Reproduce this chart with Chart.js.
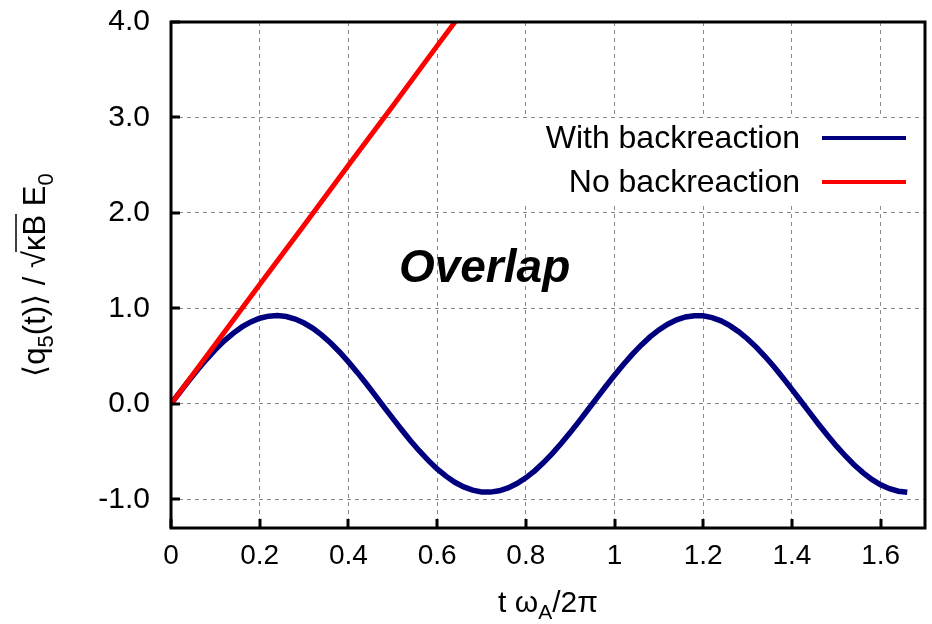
<!DOCTYPE html>
<html><head><meta charset="utf-8">
<script src="https://cdn.jsdelivr.net/npm/chart.js@4.4.0/dist/chart.umd.min.js"></script>
<style>html,body{margin:0;padding:0;background:#fff;}#c{display:block;}</style>
</head><body>
<canvas id="c" width="932" height="624"></canvas>
<script>
const seriesNames = ['With backreaction', 'No backreaction'];
const xWith = [0,0.02,0.04,0.06,0.08,0.10,0.12,0.14,0.16,0.18,0.20,0.22,0.24,0.26,0.28,0.30,0.32,0.34,0.36,0.38,0.40,0.42,0.44,0.46,0.48,0.50,0.52,0.54,0.56,0.58,0.60,0.62,0.64,0.66,0.68,0.70,0.72,0.74,0.76,0.78,0.80,0.82,0.84,0.86,0.88,0.90,0.92,0.94,0.96,0.98,1.00,1.02,1.04,1.06,1.08,1.10,1.12,1.14,1.16,1.18,1.20,1.22,1.24,1.26,1.28,1.30,1.32,1.34,1.36,1.38,1.40,1.42,1.44,1.46,1.48,1.50,1.52,1.54,1.56,1.58,1.60,1.62,1.64,1.66];
const yWith = [0,0.122,0.242,0.358,0.467,0.568,0.660,0.739,0.806,0.859,
  0.897,0.919,0.925,0.915,0.888,0.847,0.791,0.720,0.637,0.544,
  0.440,0.330,0.213,0.092,-0.031,-0.152,-0.271,-0.386,-0.493,-0.592,
  -0.681,-0.757,-0.821,-0.870,-0.904,-0.922,-0.924,-0.910,-0.880,-0.834,
  -0.775,-0.701,-0.615,-0.519,-0.413,-0.301,-0.183,-0.061,0.061,0.182,
  0.300,0.413,0.519,0.615,0.701,0.775,0.835,0.880,0.910,0.924,
  0.922,0.904,0.870,0.820,0.757,0.680,0.592,0.493,0.386,0.271,
  0.152,0.030,-0.092,-0.213,-0.329,-0.440,-0.543,-0.637,-0.720,-0.791,
  -0.847,-0.888,-0.915,-0.925];
const xNo = [0,0.1,0.2,0.3,0.4,0.5,0.6,0.645];
const yNo = [0,0.625,1.25,1.87,2.50,3.12,3.75,4.03];
const xTicks = [0,0.2,0.4,0.6,0.8,1.0,1.2,1.4,1.6];
const xTickLabels = ['0','0.2','0.4','0.6','0.8','1','1.2','1.4','1.6'];
const yTicks = [-1,0,1,2,3,4];
const yTickLabels = ['-1.0','0.0','1.0','2.0','3.0','4.0'];
const annotationText = 'Overlap';
const annotationAt = [0.707, 1.28];

const FONT = '"Liberation Sans", Arial, Helvetica, sans-serif';
const BLUE = '#00007f', RED = '#ff0000';

function drawPieces(ctx, pieces, startX, baseY) {
  let x = startX;
  const pos = [];
  for (const p of pieces) {
    ctx.font = p.f;
    ctx.fillText(p.t, x, baseY + (p.dy || 0));
    const w = ctx.measureText(p.t).width;
    pos.push([x, x + w]);
    x += w;
  }
  return pos;
}
function widthOf(ctx, pieces) {
  let w = 0;
  for (const p of pieces) { ctx.font = p.f; w += ctx.measureText(p.t).width; }
  return w;
}

const deco = {
  id: 'deco',
  afterDatasetsDraw(chart) {
    const {ctx, chartArea: a, scales: {x, y}} = chart;
    ctx.save();
    ctx.fillStyle = '#000';
    ctx.font = 'italic bold 46px ' + FONT;
    ctx.textAlign = 'center';
    ctx.textBaseline = 'alphabetic';
    ctx.fillText(annotationText, x.getPixelForValue(annotationAt[0]), y.getPixelForValue(annotationAt[1]));
    ctx.fillStyle = '#fff';
    ctx.fillRect(515, 118, a.right - 515 - 2, 86);
    ctx.font = '32px ' + FONT;
    ctx.textAlign = 'right';
    ctx.textBaseline = 'middle';
    const rows = [[seriesNames[0], BLUE, 138], [seriesNames[1], RED, 182]];
    for (const [t, c, yy] of rows) {
      ctx.fillStyle = '#000';
      ctx.fillText(t, 800, yy + 1);
      ctx.strokeStyle = c; ctx.lineWidth = 4;
      ctx.beginPath(); ctx.moveTo(822, yy); ctx.lineTo(906, yy); ctx.stroke();
    }
    ctx.strokeStyle = '#000'; ctx.lineWidth = 3;
    ctx.strokeRect(a.left, a.top, a.right - a.left, a.bottom - a.top);
    ctx.beginPath();
    for (const v of yTicks) {
      const py = Math.round(y.getPixelForValue(v));
      ctx.moveTo(a.left, py); ctx.lineTo(a.left + 9, py);
    }
    for (const v of xTicks) {
      const px = Math.round(x.getPixelForValue(v));
      ctx.moveTo(px, a.bottom); ctx.lineTo(px, a.bottom - 9);
    }
    ctx.stroke();
    ctx.restore();
  },
  afterDraw(chart) {
    const {ctx, chartArea: a} = chart;
    ctx.save();
    ctx.fillStyle = '#000';
    ctx.textAlign = 'left';
    ctx.textBaseline = 'alphabetic';
    const M = '30px ' + FONT, S = '21px ' + FONT;
    const xp = [{t: 't \u03c9', f: M}, {t: 'A', f: S, dy: 7}, {t: '/2\u03c0', f: M}];
    const xw = widthOf(ctx, xp);
    drawPieces(ctx, xp, (a.left + a.right) / 2 - xw / 2, 612);
    ctx.translate(45, (a.top + a.bottom) / 2);
    ctx.rotate(-Math.PI / 2);
    const MY = '31px ' + FONT, SY = '22px ' + FONT;
    const yp = [{t: '\u27e8q', f: MY}, {t: '5', f: SY, dy: 8}, {t: '(t)\u27e9 / ', f: MY}, {t: '\u221a', f: MY}, {t: '\u03baB', f: MY}, {t: ' E', f: MY}, {t: '0', f: SY, dy: 8}];
    const yw = widthOf(ctx, yp);
    const pos = drawPieces(ctx, yp, -yw / 2, 0);
    ctx.strokeStyle = '#000'; ctx.lineWidth = 1.5;
    ctx.beginPath();
    ctx.moveTo(pos[3][1] - 1, -29); ctx.lineTo(pos[4][1] + 1, -29);
    ctx.stroke();
    ctx.restore();
  }
};

new Chart(document.getElementById('c'), {
  type: 'line',
  data: {
    datasets: [
      {label: seriesNames[0], data: xWith.map((v, i) => ({x: v, y: yWith[i]})), borderColor: BLUE, borderWidth: 5.5, pointRadius: 0, tension: 0, order: 2},
      {label: seriesNames[1], data: xNo.map((v, i) => ({x: v, y: yNo[i]})), borderColor: RED, borderWidth: 5, pointRadius: 0, tension: 0, order: 1}
    ]
  },
  options: {
    responsive: false,
    animation: false,
    devicePixelRatio: 1,
    layout: {padding: {top: 22, right: 7, left: 0, bottom: 0}},
    plugins: {legend: {display: false}, tooltip: {enabled: false}},
    scales: {
      x: {
        type: 'linear', min: 0, max: 1.7,
        afterBuildTicks(s) { s.ticks = xTicks.map(v => ({value: v})); },
        afterFit(s) { s.height = 96; s.paddingLeft = 0; s.paddingRight = 0; },
        ticks: {
          callback(v) { const i = xTicks.findIndex(t => Math.abs(t - v) < 1e-9); return i >= 0 ? xTickLabels[i] : ''; },
          font: {family: FONT, size: 28}, color: '#000', padding: 11, maxRotation: 0, autoSkip: false
        },
        grid: {color: '#8a8a8a', lineWidth: 1, drawTicks: false},
        border: {display: false, dash: [4, 4]}
      },
      y: {
        type: 'linear', min: -1.3, max: 4.0,
        afterBuildTicks(s) { s.ticks = yTicks.map(v => ({value: v})); },
        afterFit(s) { s.width = 171; s.paddingTop = 0; s.paddingBottom = 0; },
        ticks: {
          callback(v) { const i = yTicks.findIndex(t => Math.abs(t - v) < 1e-9); return i >= 0 ? yTickLabels[i] : ''; },
          font: {family: FONT, size: 30}, color: '#000', padding: 21
        },
        grid: {color: '#8a8a8a', lineWidth: 1, drawTicks: false},
        border: {display: false, dash: [4, 4]}
      }
    }
  },
  plugins: [deco]
});
</script>
</body></html>
